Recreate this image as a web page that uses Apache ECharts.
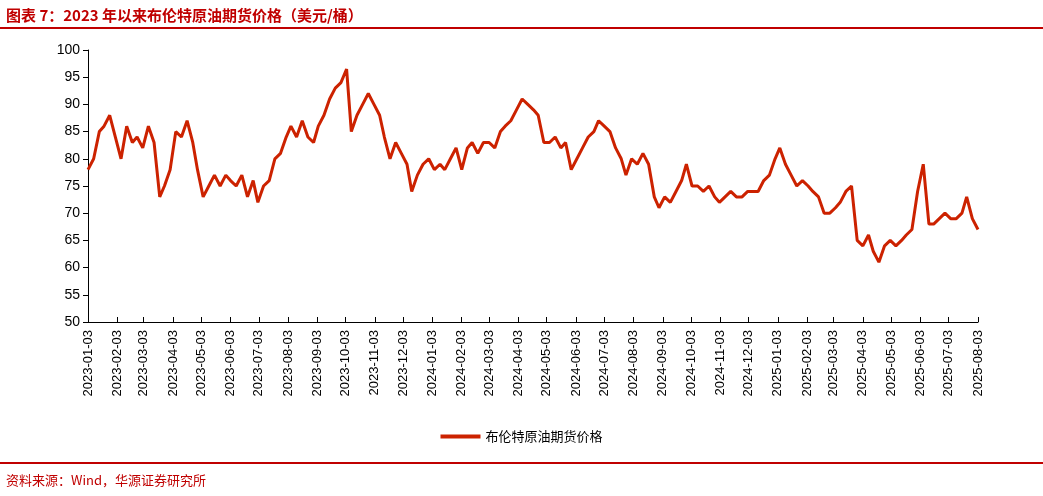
<!DOCTYPE html><html><head><meta charset="utf-8">
<script src="https://cdn.jsdelivr.net/npm/echarts@6/dist/echarts.min.js"></script>
<style>body{margin:0;background:#fff}#t{position:absolute;left:6px;top:4px;font:bold 15px "Noto Sans CJK SC";color:#c00000}
#l1{position:absolute;left:0;top:27px;width:1043px;height:2px;background:#c00000}
#l2{position:absolute;left:0;top:462px;width:1043px;height:2px;background:#c00000}
#s{position:absolute;left:6px;top:470px;font:13px "Noto Sans CJK SC";color:#c00000}
#c{width:1043px;height:496px}</style></head><body>
<div id="c"></div><div id="t">图表 7：2023 年以来布伦特原油期货价格（美元/桶）</div><div id="l1"></div><div id="l2"></div>
<div id="s">资料来源：Wind，华源证券研究所</div>
<script>
const startDate='2023-01-03', endDate='2025-08-03';
const seriesName='布伦特原油期货价格';
const prices=[78,80,85,86,88,84,80,86,83,84,82,86,83,73,75,78,85,84,87,83,78,73,75,77,75,77,76,75,77,73,76,72,75,76,80,81,84,86,84,87,84,83,86,88,91,93,94,96.5,85,88,90,92,90,88,84,80,83,81,79,74,77,79,80,78,79,78,80,82,78,82,83,81,83,83,82,85,86,87,89,91,90,89,88,83,83,84,82,83,78,80,82,84,85,87,86,85,82,80,77,80,79,81,79,73,71,73,72,74,76,79,75,75,74,75,73,72,73,74,73,73,74,74,74,76,77,80,82,79,77,75,76,75,74,73,70,70,71,72,74,75,65,64,66,63,61,64,65,64,65,66,67,74,79,68,68,69,70,69,69,70,73,69,67];
const yTicks={min:50,max:100,interval:5};
const days=[];const d0=new Date(startDate+'T00:00:00Z'),d1=new Date(endDate+'T00:00:00Z');
for(let d=new Date(d0);d<=d1;d.setUTCDate(d.getUTCDate()+1))days.push(d.toISOString().slice(0,10));
const vals=new Array(days.length).fill(null);
const step=(days.length-1)/(prices.length-1);
prices.forEach((v,i)=>{vals[Math.round(i*step)]=v;});
const show=(i,v)=>v.slice(8)==='03';
const ch=echarts.init(document.getElementById('c'));
ch.setOption({animation:false,
grid:{left:88,right:65,top:50,bottom:174},
legend:{bottom:48,left:'center',itemWidth:40,itemHeight:4,textStyle:{fontSize:13,fontFamily:'Noto Sans CJK SC',color:'#000'},data:[{name:seriesName,icon:'rect'}]},
xAxis:{type:'category',data:days,boundaryGap:false,axisLine:{lineStyle:{color:'#000'}},
axisTick:{interval:show,lineStyle:{color:'#000'},inside:true},axisLabel:{interval:show,rotate:90,fontSize:13,color:'#000',fontFamily:'Liberation Sans'}},
yAxis:{type:'value',...yTicks,splitLine:{show:false},axisLine:{show:true,lineStyle:{color:'#000'}},axisTick:{show:true,lineStyle:{color:'#000'}},axisLabel:{fontSize:14,color:'#000',fontFamily:'Liberation Sans'}},
series:[{name:seriesName,type:'line',data:vals,connectNulls:true,showSymbol:false,lineStyle:{color:'#cc2200',width:3},itemStyle:{color:'#cc2200'}}]});
</script></body></html>
